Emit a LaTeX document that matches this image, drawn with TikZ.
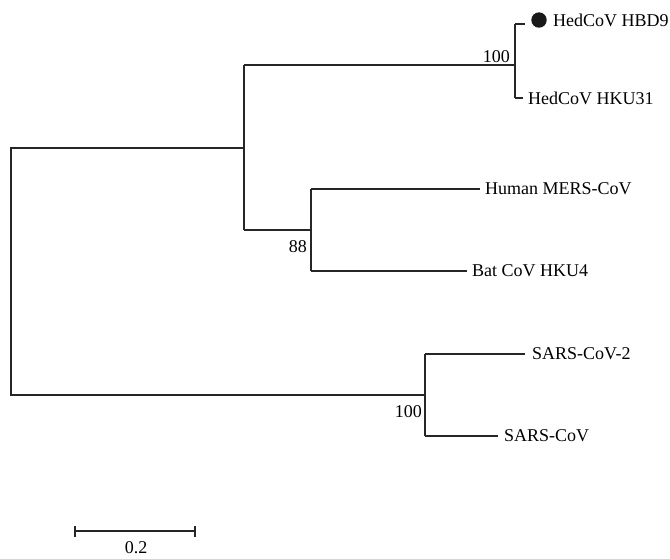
\documentclass[tikz,border=0pt]{standalone}
\usepackage{fontspec}
\setmainfont{Liberation Serif}
\begin{document}
\begin{tikzpicture}[x=1pt,y=-1pt,
  branch/.style={line width=1.2pt, draw=black!85},
  leaf/.style={anchor=west, inner sep=0pt, font=\fontsize{18}{20}\selectfont},
  boot/.style={anchor=east, inner sep=0pt, font=\fontsize{18}{20}\selectfont}]
\useasboundingbox (0,0) rectangle (670,558);
% internal nodes
\coordinate (root) at (11,148);
\coordinate (rootb) at (11,395);
\coordinate (nA) at (244,148);
\coordinate (nAt) at (244,65);
\coordinate (nAb) at (244,230);
\coordinate (nB) at (515,65);
\coordinate (nBt) at (515,24);
\coordinate (nBb) at (515,98);
\coordinate (nC) at (311,230);
\coordinate (nCt) at (311,189);
\coordinate (nCb) at (311,271);
\coordinate (nD) at (425,395);
\coordinate (nDt) at (425,354);
\coordinate (nDb) at (425,436);
% leaf line ends
\coordinate (e1) at (525,24);
\coordinate (e2) at (523,98);
\coordinate (e3) at (480,189);
\coordinate (e4) at (467,271);
\coordinate (e5) at (525,354);
\coordinate (e6) at (498,436);
% leaves
\node[leaf] (hbd9) at (553,20) {HedCoV HBD9};
\node[leaf] (hku31) at (528,98) {HedCoV HKU31};
\node[leaf] (mers) at (485,189) {Human MERS-CoV};
\node[leaf] (hku4) at (472,271) {Bat CoV HKU4};
\node[leaf] (sars2) at (532,354) {SARS-CoV-2};
\node[leaf] (sars) at (504,436) {SARS-CoV};
\fill[black!90] (539,20) circle (7.7) node (dot) {};
% branches
\draw[branch] (nA) -- (root) -- (rootb) -- (nD);
\draw[branch] (nAt) -- (nAb);
\draw[branch] (nAt) -- (nB);
\draw[branch] (nAb) -- (nC);
\draw[branch] (nBt) -- (nBb);
\draw[branch] (nBt) -- (e1);
\draw[branch] (nBb) -- (e2);
\draw[branch] (nCt) -- (nCb);
\draw[branch] (nCt) -- (e3);
\draw[branch] (nCb) -- (e4);
\draw[branch] (nDt) -- (nDb);
\draw[branch] (nDt) -- (e5);
\draw[branch] (nDb) -- (e6);
% bootstrap values
\node[boot] (b1) at (510,57) {100};
\node[boot] (b2) at (307,247) {88};
\node[boot] (b3) at (422,412) {100};
% scale bar
\coordinate (s1) at (75,531);
\coordinate (s2) at (195,531);
\draw[branch] (s1) -- (s2);
\draw[branch] (75,526) -- (75,537);
\draw[branch] (195,526) -- (195,537);
\node[inner sep=0pt, font=\fontsize{18}{20}\selectfont] (sl) at (136,548) {0.2};
\end{tikzpicture}
\end{document}
